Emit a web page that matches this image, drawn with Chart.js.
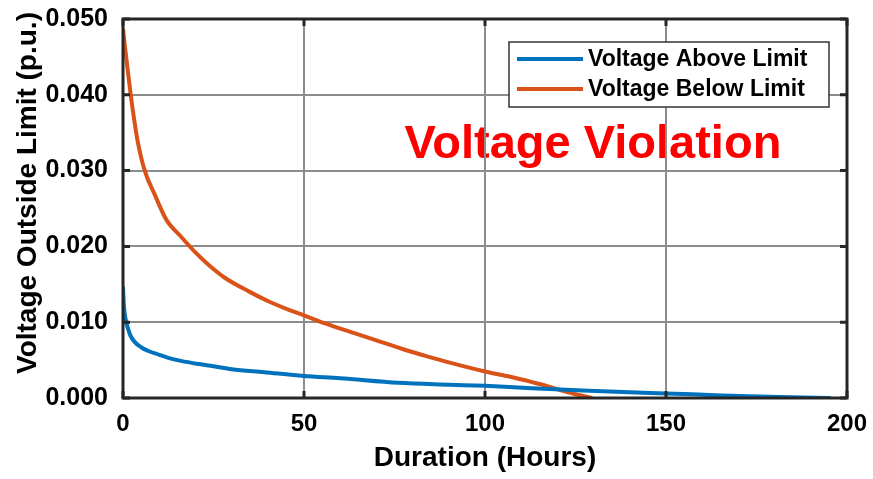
<!DOCTYPE html>
<html>
<head>
<meta charset="utf-8">
<script src="https://cdn.jsdelivr.net/npm/chart.js@4/dist/chart.umd.min.js"></script>
<style>
  html, body { margin: 0; padding: 0; background: #ffffff; }
  #wrap { width: 873px; height: 479px; }
</style>
</head>
<body>
<div id="wrap"><canvas id="c" width="873" height="479"></canvas></div>
<script>
// Duration curves: hours spent at or above each deviation level
const aboveHours  = [0, 0.2, 0.5, 1, 1.5, 2, 3.2, 5, 7, 10, 12.5, 16, 21, 25, 30, 39, 50, 60, 76, 90, 100, 113, 127, 140, 150, 162, 173, 185, 195.5];
const aboveValues = [0.0147, 0.0125, 0.0110, 0.0098, 0.0090, 0.0083, 0.0074, 0.0067, 0.0062, 0.0057, 0.0053, 0.0049, 0.00448, 0.0042, 0.0038, 0.0034, 0.0029, 0.0026, 0.0020, 0.00175, 0.0016, 0.0013, 0.0010, 0.00075, 0.0006, 0.0004, 0.00022, 0.0001, 0.0];

const belowHours  = [0, 0.5, 1, 2, 3, 4, 6, 8.8, 12, 16, 20, 24, 28, 35, 40, 46, 50, 56, 63, 70, 77, 84, 90, 100, 107, 113, 117, 121, 125, 129.6];
const belowValues = [0.0487, 0.0465, 0.0445, 0.0405, 0.0370, 0.0340, 0.0300, 0.0268, 0.0235, 0.0213, 0.0192, 0.0174, 0.0159, 0.0140, 0.0128, 0.0116, 0.0109, 0.0098, 0.0087, 0.0076, 0.0065, 0.0055, 0.0047, 0.0035, 0.0028, 0.0021, 0.0016, 0.0010, 0.0005, 0.0];

const seriesNames = ['Voltage Above Limit', 'Voltage Below Limit'];
const seriesColors = ['#0072BD', '#D95319'];

const xTicks = [0, 50, 100, 150, 200];
const yTicks = [0, 0.01, 0.02, 0.03, 0.04, 0.05];

const xTitle = 'Duration (Hours)';
const yTitle = 'Voltage Outside Limit (p.u.)';
const noteText = 'Voltage Violation';

const FONT = '"Liberation Sans", Arial, Helvetica, sans-serif';

function pairs(xs, ys) { return xs.map((x, i) => ({ x: x, y: ys[i] })); }

// Red caption placed under the grid
const notePlugin = {
  id: 'note',
  beforeDraw(chart) {
    const ctx = chart.ctx;
    const xs = chart.scales.x, ys = chart.scales.y;
    ctx.save();
    ctx.font = 'bold 47px ' + FONT;
    ctx.fillStyle = '#ff0000';
    ctx.textAlign = 'center';
    ctx.textBaseline = 'alphabetic';
    ctx.fillText(noteText, xs.getPixelForValue(129.8), ys.getPixelForValue(0.0317));
    ctx.restore();
  }
};

// Box frame, inward tick marks, legend box and vertical axis title
const framePlugin = {
  id: 'frame',
  afterDatasetsDraw(chart) {
    const ctx = chart.ctx;
    const a = chart.chartArea;
    const xs = chart.scales.x, ys = chart.scales.y;
    ctx.save();
    ctx.strokeStyle = '#262626';
    ctx.lineWidth = 3;
    ctx.lineCap = 'butt';
    const tl = 7;
    ctx.beginPath();
    xTicks.forEach(v => {
      const px = xs.getPixelForValue(v);
      ctx.moveTo(px, a.bottom); ctx.lineTo(px, a.bottom - tl);
      ctx.moveTo(px, a.top); ctx.lineTo(px, a.top + tl);
    });
    yTicks.forEach(v => {
      const py = ys.getPixelForValue(v);
      ctx.moveTo(a.left, py); ctx.lineTo(a.left + tl, py);
      ctx.moveTo(a.right, py); ctx.lineTo(a.right - tl, py);
    });
    ctx.stroke();
    ctx.strokeRect(a.left, a.top, a.right - a.left, a.bottom - a.top);

    // legend
    const bx = 509, by = 42, bw = 320, bh = 65;
    ctx.fillStyle = '#ffffff';
    ctx.fillRect(bx, by, bw, bh);
    ctx.lineWidth = 1.5;
    ctx.strokeStyle = '#333333';
    ctx.strokeRect(bx, by, bw, bh);
    ctx.font = 'bold 23px ' + FONT;
    ctx.textAlign = 'left';
    ctx.textBaseline = 'middle';
    chart.data.datasets.forEach((ds, i) => {
      const ry = by + 17 + i * 30;
      ctx.strokeStyle = ds.borderColor;
      ctx.lineWidth = 4;
      ctx.beginPath();
      ctx.moveTo(bx + 8, ry); ctx.lineTo(bx + 74, ry);
      ctx.stroke();
      ctx.fillStyle = '#000000';
      ctx.fillText(ds.label, bx + 79, ry + 1);
    });

    // vertical axis title
    ctx.translate(28, 193);
    ctx.rotate(-Math.PI / 2);
    ctx.font = 'bold 28px ' + FONT;
    ctx.fillStyle = '#000000';
    ctx.textAlign = 'center';
    ctx.textBaseline = 'middle';
    ctx.fillText(yTitle, 0, 0);
    ctx.restore();
  }
};

new Chart(document.getElementById('c'), {
  type: 'line',
  data: {
    datasets: [
      { label: seriesNames[0], data: pairs(aboveHours, aboveValues), borderColor: seriesColors[0], borderWidth: 4, pointRadius: 0, cubicInterpolationMode: 'monotone', fill: false },
      { label: seriesNames[1], data: pairs(belowHours, belowValues), borderColor: seriesColors[1], borderWidth: 4, pointRadius: 0, cubicInterpolationMode: 'monotone', fill: false }
    ]
  },
  options: {
    responsive: false,
    animation: false,
    devicePixelRatio: 1,
    layout: { padding: { top: 19, right: 26, left: 0, bottom: 0 } },
    plugins: { legend: { display: false }, tooltip: { enabled: false } },
    scales: {
      x: {
        type: 'linear',
        min: 0, max: 200,
        afterFit(s) { s.height = 81; s.paddingLeft = 0; s.paddingRight = 0; },
        afterBuildTicks(s) { s.ticks = xTicks.map(v => ({ value: v })); },
        grid: { color: '#8c8c8c', lineWidth: 2, drawTicks: false },
        border: { display: false },
        ticks: { padding: 12, color: '#000000', font: { family: FONT, size: 24, weight: 'bold' }, callback: v => String(v) },
        title: { display: true, text: xTitle, color: '#000000', padding: { top: 0, bottom: 4 }, font: { family: FONT, size: 28, weight: 'bold' } }
      },
      y: {
        type: 'linear',
        min: 0, max: 0.05,
        afterFit(s) { s.width = 123; s.paddingTop = 0; s.paddingBottom = 0; },
        afterBuildTicks(s) { s.ticks = yTicks.map(v => ({ value: v })); },
        grid: { color: '#8c8c8c', lineWidth: 2, drawTicks: false },
        border: { display: false },
        ticks: { padding: 15, color: '#000000', font: { family: FONT, size: 25, weight: 'bold' }, callback: v => Number(v).toFixed(3) },
        title: { display: false }
      }
    }
  },
  plugins: [notePlugin, framePlugin]
});
</script>
</body>
</html>
